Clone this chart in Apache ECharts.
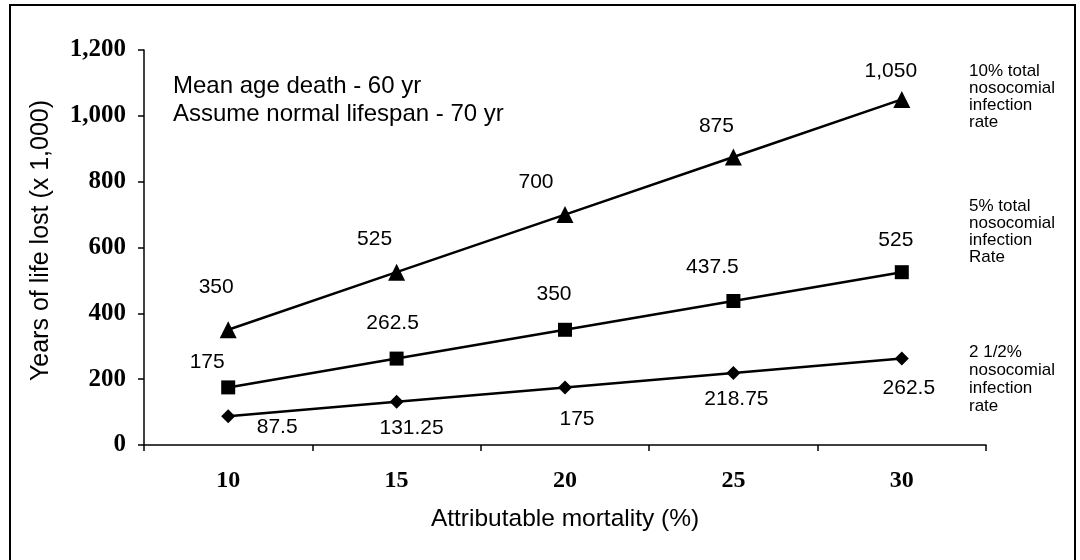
<!DOCTYPE html>
<html>
<head>
<meta charset="utf-8">
<script src="https://cdn.jsdelivr.net/npm/echarts@6/dist/echarts.min.js"></script>
<style>html,body{margin:0;padding:0;background:#fff;}#c{width:1080px;height:560px;}</style>
</head>
<body>
<div id="c"></div>
<script>
const categories = ['10', '15', '20', '25', '30'];
const rate10 = [350, 525, 700, 875, 1050];
const rate5 = [175, 262.5, 350, 437.5, 525];
const rate2_5 = [87.5, 131.25, 175, 218.75, 262.5];
const yTicks = { min: 0, max: 1200, interval: 200 };
const seriesNames = ['10% total\nnosocomial\ninfection\nrate', '5% total\nnosocomial\ninfection\nRate', '2 1/2%\nnosocomial\ninfection\nrate'];

// label offsets (style only)
const off10 = [[-12,-43],[-22,-33],[-29,-32],[-17,-31],[-11,-28]];
const off5 = [[-21,-25],[-4,-35],[-11,-36],[-21,-34],[-6,-32]];
const off2 = [[49,11],[15,26],[12,32],[3,26],[7,30]];

const fmt = v => Number(v).toLocaleString('en-US', {maximumFractionDigits: 2});
function mk(values, offs) {
  return values.map((v, i) => ({ value: v, label: { offset: offs[i] } }));
}
const sans = 'Liberation Sans, Arial, sans-serif';
const serif = 'Liberation Serif, Times New Roman, serif';
const labelStyle = {
  show: true, position: 'inside', color: '#000',
  fontFamily: sans, fontSize: 21,
  formatter: p => fmt(p.value)
};
const chart = echarts.init(document.getElementById('c'), null, {renderer: 'canvas'});
chart.setOption({
  backgroundColor: '#fff',
  animation: false,
  grid: { left: 144, right: 94, top: 50, bottom: 115 },
  xAxis: {
    type: 'category', data: categories, boundaryGap: true,
    name: 'Attributable mortality (%)', nameLocation: 'middle', nameGap: 62,
    nameTextStyle: { fontFamily: sans, fontSize: 24.5, color: '#000' },
    axisLine: { lineStyle: { color: '#000', width: 1.5 } },
    axisTick: { show: true, inside: false, length: 6, lineStyle: { color: '#000', width: 1.5 } },
    axisLabel: { fontFamily: serif, fontWeight: 'bold', fontSize: 24, color: '#000', margin: 24 },
    splitLine: { show: false }
  },
  yAxis: {
    type: 'value', min: yTicks.min, max: yTicks.max, interval: yTicks.interval,
    name: 'Years of life lost (x 1,000)', nameLocation: 'middle', nameGap: 90, nameRotate: 90,
    nameTextStyle: { fontFamily: sans, fontSize: 25, color: '#000', padding: [0, 0, 0, 14] },
    axisLine: { show: true, lineStyle: { color: '#000', width: 1.5 } },
    axisTick: { show: true, length: 6, lineStyle: { color: '#000', width: 1.5 } },
    axisLabel: { fontFamily: serif, fontWeight: 'bold', fontSize: 25, color: '#000', margin: 18, formatter: v => fmt(v) },
    splitLine: { show: false }
  },
  series: [
    { name: seriesNames[0], type: 'line', data: mk(rate10, off10), symbol: 'triangle', symbolSize: 17,
      lineStyle: { color: '#000', width: 2.5 }, itemStyle: { color: '#000' }, label: labelStyle },
    { name: seriesNames[1], type: 'line', data: mk(rate5, off5), symbol: 'rect', symbolSize: 14,
      lineStyle: { color: '#000', width: 2.5 }, itemStyle: { color: '#000' }, label: labelStyle },
    { name: seriesNames[2], type: 'line', data: mk(rate2_5, off2), symbol: 'diamond', symbolSize: 14,
      lineStyle: { color: '#000', width: 2.5 }, itemStyle: { color: '#000' }, label: labelStyle }
  ],
  graphic: [
    { type: 'rect', shape: { x: 10, y: 5, width: 1065, height: 570 }, style: { fill: 'none', stroke: '#000', lineWidth: 2 }, silent: true },
    { type: 'text', left: 173, top: 72, style: { text: 'Mean age death - 60 yr\nAssume normal lifespan - 70 yr', fontFamily: sans, fontSize: 24, lineHeight: 28, fill: '#000' } },
    { type: 'text', left: 969, top: 63, style: { text: seriesNames[0], fontFamily: sans, fontSize: 17, lineHeight: 17, fill: '#000' } },
    { type: 'text', left: 969, top: 198, style: { text: seriesNames[1], fontFamily: sans, fontSize: 17, lineHeight: 17, fill: '#000' } },
    { type: 'text', left: 969, top: 343, style: { text: seriesNames[2], fontFamily: sans, fontSize: 17, lineHeight: 18, fill: '#000' } }
  ]
});
</script>
</body>
</html>
